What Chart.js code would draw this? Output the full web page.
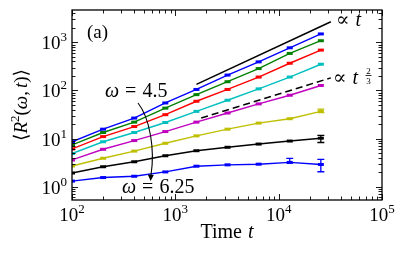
<!DOCTYPE html>
<html><head><meta charset="utf-8">
<script src="https://cdn.jsdelivr.net/npm/chart.js@4"></script>
<style>html,body{margin:0;padding:0;background:#fff}</style>
</head><body>
<canvas id="c" width="406" height="260"></canvas>
<script>
// ---- data ----
const times = [100, 200, 400, 800, 1600, 3200, 6400, 12800, 25600];
const seriesW450 = [8.6, 15.7, 26.7, 55, 105, 209, 393, 771, 1495];
const seriesGreen = [7.4, 13.4, 22, 43, 82, 152, 285, 589, 1081];
const seriesRed = [6.1, 11, 17.8, 31.4, 59.7, 105, 190, 368, 690];
const seriesCyan = [4.9, 8.6, 13.4, 21.6, 36.8, 62.7, 108, 190, 351];
const seriesMagenta = [3.6, 6.0, 9.1, 14, 22, 34, 52.6, 79.6, 127];
const seriesYellow = [2.7, 3.9, 5.5, 8, 11.4, 15.7, 21, 25.9, 36.8];
const seriesBlack = [1.93, 2.6, 3.3, 4.4, 5.6, 6.6, 7.7, 8.9, 10.2];
const seriesW625 = [1.31, 1.55, 1.65, 2.03, 2.67, 2.85, 2.94, 3.2, 2.9];
// error bars [low, high]
const errYellow = [null, null, null, null, null, null, null, null, [34.6, 41]];
const errBlack = [null, null, null, null, null, null, null, null, [8.3, 11.7]];
const errW625 = [null, null, null, null, null, null, null, [3.15, 3.9], [2.05, 3.7]];
// guide lines
const guideLinearT = [1600, 32000];
const guideLinearY = [134, 2680];
const guideTwoThirdsT = [1780, 32000];
const guideTwoThirdsY = [26.7, 183];
// ticks
const xTickValues = [100, 1000, 10000, 100000];
const xTickExps = ['2', '3', '4', '5'];
const yTickValues = [1, 10, 100, 1000];
const yTickExps = ['0', '1', '2', '3'];

const FONT = '"Liberation Serif", "DejaVu Serif", serif';
const F = (s, it) => (it ? 'italic ' : '') + s + 'px ' + FONT;

function pts(xs, ys) { return xs.map((x, i) => ({ x: x, y: ys[i] })); }
function series(label, vals, color, errs) {
  return {
    label: label, data: pts(times, vals), borderColor: color, backgroundColor: color,
    borderWidth: 1.4, pointStyle: 'line', pointRadius: 3, pointBorderWidth: 3,
    pointHoverRadius: 3, tension: 0, errors: errs || null
  };
}

function drawRuns(ctx, runs, x, y, align) {
  let w = 0;
  runs.forEach(r => { ctx.font = r.f; r.w = ctx.measureText(r.t).width; w += r.w + (r.gap || 0); });
  let sx = align === 'center' ? x - w / 2 : align === 'right' ? x - w : x;
  ctx.textAlign = 'left'; ctx.textBaseline = 'alphabetic';
  runs.forEach(r => { sx += (r.gap || 0); ctx.font = r.f; ctx.fillText(r.t, sx, y + (r.dy || 0)); sx += r.w; });
}

const errorBarPlugin = {
  id: 'errbars',
  afterDatasetsDraw(chart) {
    const ctx = chart.ctx, xs = chart.scales.x, ys = chart.scales.y;
    chart.data.datasets.forEach(ds => {
      if (!ds.errors) return;
      ctx.save(); ctx.strokeStyle = ds.borderColor; ctx.lineWidth = 1.3;
      ds.errors.forEach((e, i) => {
        if (!e) return;
        const px = xs.getPixelForValue(ds.data[i].x);
        const lo = ys.getPixelForValue(e[0]), hi = ys.getPixelForValue(e[1]);
        ctx.beginPath();
        ctx.moveTo(px, lo); ctx.lineTo(px, hi);
        ctx.moveTo(px - 3.5, lo); ctx.lineTo(px + 3.5, lo);
        ctx.moveTo(px - 3.5, hi); ctx.lineTo(px + 3.5, hi);
        ctx.stroke();
      });
      ctx.restore();
    });
  }
};

const framePlugin = {
  id: 'frame',
  afterDraw(chart) {
    const ctx = chart.ctx, a = chart.chartArea, xs = chart.scales.x, ys = chart.scales.y;
    ctx.save();
    ctx.strokeStyle = '#000'; ctx.fillStyle = '#000';
    // ticks
    ctx.lineWidth = 0.9;
    ctx.beginPath();
    for (let n = 2; n <= 5; n++) {
      for (let k = 1; k <= 9; k++) {
        const v = k * Math.pow(10, n);
        if (v < xs.min - 1e-9 || v > xs.max + 1e-9) continue;
        const px = Math.round(xs.getPixelForValue(v)) + 0.5, L = k === 1 ? 6 : 3.5;
        ctx.moveTo(px, a.bottom); ctx.lineTo(px, a.bottom - L);
        ctx.moveTo(px, a.top); ctx.lineTo(px, a.top + L);
      }
    }
    for (let n = -1; n <= 3; n++) {
      for (let k = 1; k <= 9; k++) {
        const v = k * Math.pow(10, n);
        if (v < ys.min || v > ys.max) continue;
        const py = Math.round(ys.getPixelForValue(v)) + 0.5, L = k === 1 ? 6 : 3.5;
        ctx.moveTo(a.left, py); ctx.lineTo(a.left + L, py);
        ctx.moveTo(a.right, py); ctx.lineTo(a.right - L, py);
      }
    }
    ctx.stroke();
    // frame
    ctx.lineWidth = 1.3;
    ctx.strokeRect(a.left, a.top, a.right - a.left, a.bottom - a.top);
    // tick labels
    xTickValues.forEach((v, i) => {
      const px = xs.getPixelForValue(v);
      drawRuns(ctx, [{ t: '10', f: F(19) }, { t: xTickExps[i], f: F(13), dy: -8 }], px, 221, 'center');
    });
    yTickValues.forEach((v, i) => {
      const py = ys.getPixelForValue(v);
      drawRuns(ctx, [{ t: '10', f: F(19) }, { t: yTickExps[i], f: F(13), dy: -8 }], 67, py + 7, 'right');
    });
    // axis titles
    drawRuns(ctx, [{ t: 'Time', f: F(20) }, { t: 't', f: F(20, true), gap: 6 }], 227, 238, 'center');
    ctx.save(); ctx.translate(20, 105); ctx.rotate(-Math.PI / 2);
    drawRuns(ctx, [
      { t: '⟨', f: F(19) }, { t: 'R', f: F(19, true) }, { t: '2', f: F(13), dy: -8 },
      { t: '(', f: F(19) }, { t: 'ω', f: F(19, true) }, { t: ',', f: F(19) },
      { t: 't', f: F(19, true), gap: 3 }, { t: ')', f: F(19) }, { t: '⟩', f: F(19) }
    ], 0, 7, 'center');
    ctx.restore();
    // annotations
    drawRuns(ctx, [{ t: '(a)', f: F(19) }], 87, 38, 'left');
    drawRuns(ctx, [{ t: 'ω', f: F(20, true) }, { t: '=', f: F(20), gap: 6 }, { t: '4.5', f: F(20), gap: 6 }], 105, 97, 'left');
    drawRuns(ctx, [{ t: 'ω', f: F(20, true) }, { t: '=', f: F(20), gap: 6 }, { t: '6.25', f: F(20), gap: 6 }], 122, 193, 'left');
    drawRuns(ctx, [{ t: '∝', f: F(20) }, { t: 't', f: F(20, true), gap: 6 }], 336, 26, 'left');
    drawRuns(ctx, [{ t: '∝', f: F(20) }, { t: 't', f: F(20, true), gap: 6 }], 333, 84, 'left');
    drawRuns(ctx, [{ t: '2', f: F(9) }], 368.5, 73.5, 'center');
    drawRuns(ctx, [{ t: '3', f: F(9) }], 368.5, 83.5, 'center');
    ctx.lineWidth = 0.8; ctx.beginPath(); ctx.moveTo(365.5, 75.5); ctx.lineTo(371.5, 75.5); ctx.stroke();
    // curved arrow
    ctx.lineWidth = 1.1;
    ctx.beginPath();
    ctx.moveTo(138, 103);
    ctx.bezierCurveTo(150, 118, 155, 150, 151, 175);
    ctx.stroke();
    ctx.beginPath();
    ctx.moveTo(150.6, 181); ctx.lineTo(147.8, 174.5); ctx.lineTo(153.8, 175); ctx.closePath(); ctx.fill();
    ctx.restore();
  }
};

new Chart(document.getElementById('c'), {
  type: 'line',
  data: {
    datasets: [
      { label: '∝ t', data: pts(guideLinearT, guideLinearY), borderColor: '#000', borderWidth: 1.5, pointRadius: 0, tension: 0 },
      { label: '∝ t^2/3', data: pts(guideTwoThirdsT, guideTwoThirdsY), borderColor: '#000', borderWidth: 1.5, borderDash: [7, 4], pointRadius: 0, tension: 0 },
      series('ω = 4.5', seriesW450, '#0000ff'),
      series('green', seriesGreen, '#008000'),
      series('red', seriesRed, '#ff0000'),
      series('cyan', seriesCyan, '#00bfbf'),
      series('magenta', seriesMagenta, '#bf00bf'),
      series('yellow', seriesYellow, '#bfbf00', errYellow),
      series('black', seriesBlack, '#000000', errBlack),
      series('ω = 6.25', seriesW625, '#0000ff', errW625)
    ]
  },
  options: {
    responsive: false, animation: false, devicePixelRatio: 1,
    layout: { padding: { top: 10, right: 24, left: 0, bottom: 0 } },
    plugins: { legend: { display: false }, tooltip: { enabled: false } },
    scales: {
      x: { type: 'logarithmic', min: 100, max: 100000, grid: { display: false }, border: { display: false },
           ticks: { display: false }, afterFit: s => { s.height = 60; } },
      y: { type: 'logarithmic', min: 0.53, max: 4700, grid: { display: false }, border: { display: false },
           ticks: { display: false }, afterFit: s => { s.width = 72; } }
    }
  },
  plugins: [errorBarPlugin, framePlugin]
});
</script>
</body></html>
